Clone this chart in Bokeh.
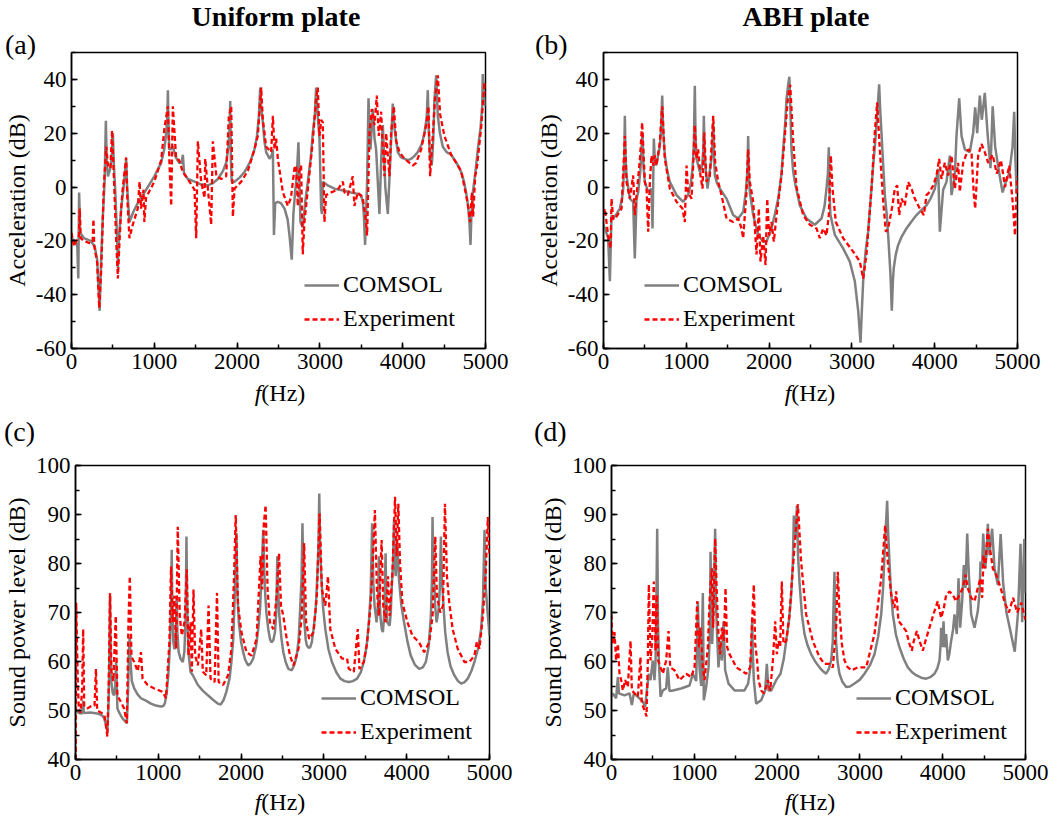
from bokeh.plotting import figure
from bokeh.models import (Legend, LegendItem, SingleIntervalTicker, Range1d, Div,
                          PrintfTickFormatter)
from bokeh.layouts import column, row
from bokeh.embed import file_html
from bokeh.resources import INLINE

FONT = "Liberation Serif"

# ---------------- data: (frequency Hz, level dB) ----------------
a_comsol = [(0, -19), (40, -20), (70, -22), (82, -34), (92, -2), (105, -17), (150, -19), (230, -20),
            (280, -22), (310, -27), (340, -46), (360, -25), (380, -10), (400, 2), (415, 24.6), (425, 10),
            (440, 4), (470, 7), (490, 13), (500, 20), (512, 8), (528, -1), (552, -20), (560, -30),
            (570, -20), (600, -8), (640, 3), (660, 10.5), (672, 0), (700, -13), (750, -9), (800, -6),
            (882, -2), (1000, 4), (1083, 9), (1120, 14), (1144, 20), (1158, 27), (1164, 36), (1172, 22),
            (1180, 14), (1196, 14), (1224, 15), (1260, 11), (1300, 9), (1330, 9), (1345, 12), (1360, 5),
            (1405, 3), (1486, 2), (1560, 1), (1647, 0.6), (1710, 1.5), (1768, 3), (1830, 6), (1868, 9),
            (1895, 15), (1910, 22), (1917, 32), (1925, 10), (1935, 2), (1969, 2), (2030, 3.5),
            (2090, 5.6), (2160, 9.5), (2210, 14), (2240, 19), (2262, 26), (2279, 37), (2290, 30),
            (2311, 24), (2330, 17), (2351, 13), (2392, 10.5), (2420, 12), (2432, 14), (2445, -17.8),
            (2460, -6), (2492, -5.5), (2530, -6), (2573, -8), (2610, -12), (2633, -18), (2660, -27),
            (2680, -10), (2700, -2), (2720, 4), (2741, 16.6), (2765, -13), (2793, -15), (2825, -5),
            (2854, 2), (2890, 11), (2914, 20), (2940, 27), (2954, 37), (2975, 26), (2995, 18),
            (3015, -8), (3025, -10), (3035, 2), (3100, 0.5), (3176, -0.6), (3280, -1.3), (3377, -2),
            (3450, -2.5), (3498, -3), (3520, -6), (3530, -10), (3546, -21.5), (3570, 2), (3587, 33),
            (3611, 14), (3639, 29), (3660, 18), (3679, 14), (3719, -10), (3740, 10), (3760, 23),
            (3790, 0), (3820, -10), (3850, 10), (3880, 31), (3900, 22), (3941, 13), (3980, 11),
            (4021, 10.5), (4060, 10), (4102, 10.5), (4140, 11.5), (4182, 13), (4230, 16), (4263, 20),
            (4290, 26), (4303, 36), (4316, 20), (4331, 10.5), (4351, 8), (4370, 18), (4384, 33),
            (4404, 41.5), (4424, 26.5), (4450, 20), (4484, 15), (4530, 13), (4585, 12), (4650, 9),
            (4706, 5.6), (4740, 2), (4766, -2), (4790, -7), (4806, -13), (4819, -21.5), (4830, -10),
            (4847, -2), (4880, 6), (4907, 14), (4940, 22), (4960, 30), (4967, 42), (4980, 35),
            (5000, 30)]

a_experiment = [(0, -17), (30, -22), (60, -20), (90, -18), (100, -8), (110, -19), (150, -20), (230, -21),
                (255, -20), (265, -12), (275, -22), (310, -28), (335, -45), (360, -30), (390, 0), (420, 15),
                (440, 8), (470, 7), (490, 21), (510, 5), (540, -20), (560, -34), (580, -20), (600, -8),
                (620, 0), (660, 11), (675, -5), (700, -19), (740, -14), (800, -8), (822, 2), (840, -8),
                (870, -1), (880, -13), (900, -4), (1000, 2), (1083, 10), (1123, 22), (1164, 30), (1184, 8),
                (1204, -7), (1224, 30), (1264, 10.5), (1300, 10), (1345, 5.6), (1405, 3), (1486, -1),
                (1506, -19), (1526, 17), (1566, 2), (1607, -4), (1615, 10.5), (1647, -0.6), (1687, -14),
                (1707, 17), (1750, 4), (1808, 3), (1868, 4), (1900, 26), (1929, 30), (1949, -11),
                (1969, -0.6), (2050, 2), (2130, 6), (2210, 14), (2250, 19), (2291, 37), (2311, 25),
                (2351, 15), (2411, 13), (2432, 26.5), (2452, 14), (2472, 18), (2492, 10.5), (2553, -2),
                (2613, -7), (2650, -4), (2693, 7), (2713, 8), (2733, -7), (2753, 6), (2773, 8), (2793, -25),
                (2813, -13), (2854, -1), (2914, 17), (2954, 33), (2975, 37), (2995, 19), (3015, 25),
                (3035, 24), (3055, -13), (3075, -3), (3136, -2), (3216, -1), (3277, 2), (3297, -2),
                (3337, -3), (3397, 4), (3417, -7), (3457, -2), (3518, -4), (3558, -13), (3570, -18),
                (3599, 20), (3627, 29), (3659, 23), (3687, 34), (3711, 19), (3740, 28), (3760, 13),
                (3780, 4), (3800, 20), (3820, 12), (3840, 4), (3860, 20), (3893, 30), (3921, 17),
                (3961, 13), (4021, 10.5), (4082, 9), (4122, 8), (4162, 9), (4223, 14), (4283, 23),
                (4311, 30), (4331, 4), (4363, 19), (4391, 33), (4424, 41.5), (4452, 27), (4504, 19),
                (4585, 12), (4706, 6), (4766, -3), (4794, -8), (4814, -13), (4835, -2), (4851, -11),
                (4875, 4), (4899, 8), (4947, 22), (4988, 39), (5000, 35)]

b_comsol = [(0, -14), (16, -15.4), (56, -19), (77, -35), (97, -10.5), (117, -11.7), (157, -10), (197, -8),
            (225, -4), (238, -0.6), (250, 10), (258, 26.5), (266, 12), (278, 4.3), (318, -4.3),
            (358, -5.5), (378, -26.5), (399, -4.3), (419, -2), (445, 6), (459, 14), (471, 20.3),
            (482, 8), (499, 1.9), (540, -1.8), (580, -0.6), (592, -15.4), (608, 18), (620, 10),
            (635, 8), (660, 11.7), (680, 15), (693, 20.3), (709, 34), (722, 20), (741, 11.7), (770, 6),
            (801, 1.9), (882, -3), (962, -5.5), (1023, -3), (1055, 1.5), (1075, 6.8), (1090, 15),
            (1103, 37.6), (1112, 18), (1123, 10.5), (1164, 5.6), (1192, 8), (1205, 14), (1212, 26.5),
            (1222, 12), (1236, 6), (1256, -0.6), (1284, 6), (1310, 12), (1325, 24), (1335, 12),
            (1345, 4.3), (1370, 1.5), (1405, -0.6), (1486, -4.3), (1566, -10.4), (1627, -11.7),
            (1687, -9.2), (1719, -1.8), (1738, 6), (1747, 19), (1756, 4), (1767, -1.8), (1808, -10.4),
            (1868, -17.8), (1929, -20.3), (1969, -20.3), (2029, -15.4), (2070, -10), (2110, -4.3),
            (2150, 5), (2170, 14), (2195, 24), (2210, 32.6), (2230, 38), (2245, 41), (2258, 28),
            (2270, 14), (2290, 6), (2311, 1.9), (2371, -6.8), (2452, -11.7), (2552, -14), (2633, -11.7),
            (2670, -7), (2693, -0.6), (2710, 5), (2721, 14.8), (2730, -2), (2741, -10.4), (2794, -17.8),
            (2894, -22.8), (2975, -27.7), (3035, -35), (3076, -46), (3104, -57.8), (3120, -46),
            (3136, -35), (3165, -24), (3196, -16.6), (3230, -3), (3257, 8), (3285, 18), (3305, 26.5),
            (3329, 38.2), (3343, 28), (3357, 20.3), (3380, 7), (3398, -3), (3420, -10), (3438, -17.8),
            (3466, -32.6), (3482, -46), (3495, -35), (3506, -30), (3530, -25), (3559, -21.5),
            (3600, -18.5), (3659, -15.4), (3720, -12.8), (3780, -10.4), (3840, -8.6), (3901, -6.8),
            (3955, -4), (4002, -0.6), (4042, 6.8), (4062, -16.6), (4102, -1), (4142, 1.9), (4183, 11.7),
            (4203, -3), (4243, 4.3), (4263, 19), (4296, 33), (4324, 19), (4364, 14), (4424, 13),
            (4465, 20.3), (4489, 29.6), (4513, 20), (4545, 34), (4569, 25), (4605, 35), (4638, 20),
            (4674, 7), (4700, 30), (4730, 15), (4780, 5), (4820, -2), (4860, 2), (4900, 5), (4940, 15),
            (4960, 28), (4975, 10), (4990, -2), (5000, 1)]

b_experiment = [(0, -10), (16, -8), (56, -18), (85, -22.8), (97, -4.3), (117, -12), (157, -11), (218, -8),
                (258, 19), (278, 1.9), (318, -4.3), (358, 4.3), (378, -10.4), (399, -3), (439, 10),
                (467, 24), (499, 1.9), (520, -0.6), (540, -16.6), (560, 1.9), (580, 11.7), (600, 8),
                (620, 11.7), (640, 8), (680, 16.6), (709, 30), (741, 10.5), (801, -0.6), (882, -5.5),
                (954, -8), (982, -13), (1003, 8), (1023, -2), (1063, -4.3), (1083, 8), (1103, 23),
                (1123, 10.5), (1143, 14), (1172, 4), (1196, -0.6), (1216, 20.3), (1244, 2), (1284, 4),
                (1325, 26.5), (1349, 9), (1385, 2), (1425, -3), (1486, -11.7), (1566, -13), (1627, -11.7),
                (1667, -15.4), (1687, -19), (1727, -2), (1747, 14), (1767, 2), (1808, -5.5), (1848, -25),
                (1876, -8), (1896, -27.7), (1929, -18), (1957, -29), (1977, -4.3), (2001, -18),
                (2029, -13), (2057, -20.3), (2090, -10.4), (2150, 4.3), (2190, 19), (2230, 34),
                (2255, 38), (2291, 17), (2331, 0), (2411, -10.4), (2492, -14), (2572, -15.4), (2613, -19),
                (2653, -15.4), (2693, -18), (2721, -10.4), (2745, 11.7), (2766, -0.6), (2806, -13),
                (2894, -19), (3015, -24), (3096, -27.7), (3136, -34), (3176, -25), (3237, -0.6),
                (3277, 20.3), (3305, 31.4), (3337, 14), (3378, -5.5), (3410, -16.6), (3438, -15.4),
                (3490, -6.8), (3518, -0.6), (3547, 0.6), (3571, -10.4), (3599, -4.3), (3639, -6.8),
                (3679, 1.9), (3720, -0.6), (3760, -4.3), (3820, -8), (3869, -10.4), (3901, -3),
                (3941, -1.8), (3981, 0.6), (4022, 4.3), (4054, 10.5), (4082, 3), (4122, 9), (4163, 4.3),
                (4203, 11.7), (4243, -0.6), (4283, 9), (4303, -1.8), (4344, 9), (4404, 14), (4444, 13),
                (4473, -3), (4489, -8), (4525, 11.7), (4565, 16), (4605, 13), (4646, 9), (4700, 12),
                (4750, 5), (4800, 10), (4850, 0), (4900, 8), (4940, -5), (4970, -18), (4990, 0), (5000, 4)]

c_comsol = [(0, 50), (40, 49.5), (81, 49.4), (93, 52), (100, 49.5), (180, 49.6), (263, 49.4), (320, 49),
            (344, 48.5), (370, 47), (385, 45.7), (400, 52), (410, 62), (417, 73.4), (425, 62), (433, 55.8),
            (450, 53.5), (466, 53.1), (480, 55), (490, 59.9), (498, 55), (506, 50.4), (530, 49.5),
            (567, 48.4), (600, 47.8), (620, 47.4), (635, 54), (645, 62), (655, 65), (665, 60), (680, 56),
            (709, 54.5), (750, 53.3), (790, 52.5), (850, 52), (911, 51.4), (970, 51), (1032, 50.8),
            (1060, 50.9), (1080, 51.5), (1100, 53.5), (1120, 57), (1140, 63), (1155, 72), (1162, 82.8),
            (1170, 70), (1182, 64), (1195, 62.5), (1210, 64), (1218, 70), (1223, 73.4), (1230, 66),
            (1245, 62), (1270, 60.5), (1296, 59.9), (1315, 62), (1330, 69), (1340, 85.5), (1350, 70),
            (1364, 61.9), (1389, 57.9), (1417, 57.2), (1478, 55.2), (1540, 54), (1599, 53.1),
            (1660, 52.2), (1721, 51.4), (1753, 51.2), (1790, 52.2), (1822, 53.8), (1860, 56.5),
            (1883, 59.9), (1905, 64.5), (1923, 73.4), (1944, 86.2), (1955, 74), (1972, 68), (2000, 64),
            (2025, 61.9), (2050, 60.3), (2085, 59.2), (2115, 59.6), (2146, 60.6), (2180, 63),
            (2207, 66.6), (2230, 71), (2247, 78.1), (2267, 86.9), (2278, 80), (2288, 74.7), (2305, 70),
            (2328, 66.6), (2350, 64.5), (2369, 63.9), (2390, 64.4), (2409, 66), (2425, 70), (2437, 81.5),
            (2448, 74), (2462, 69.3), (2485, 65), (2510, 61.9), (2540, 59.8), (2571, 58.5), (2612, 58.2),
            (2645, 59.4), (2672, 61.2), (2695, 64.5), (2713, 70.7), (2730, 77), (2741, 88.2), (2752, 76),
            (2765, 68), (2780, 64.5), (2794, 63.3), (2815, 62.8), (2834, 62.9), (2855, 64), (2875, 66.6),
            (2900, 70.5), (2915, 75.4), (2935, 84), (2944, 94.3), (2955, 83), (2968, 77.5), (2990, 71),
            (3017, 66.6), (3055, 62.5), (3097, 59.9), (3150, 57.8), (3199, 56.5), (3250, 56),
            (3300, 55.8), (3350, 56), (3401, 56.5), (3445, 57.8), (3482, 59.9), (3515, 63), (3543, 68),
            (3565, 74), (3583, 88.2), (3597, 76), (3612, 71.4), (3636, 68), (3655, 72), (3664, 81.5),
            (3675, 72), (3685, 68.7), (3700, 66.5), (3713, 66), (3730, 70), (3745, 82.1), (3755, 72),
            (3766, 68), (3794, 67.3), (3808, 70), (3818, 74.7), (3835, 80), (3847, 88.9), (3857, 80),
            (3867, 77.4), (3887, 84.2), (3907, 76.7), (3935, 71.5), (3968, 68), (4010, 64), (4049, 61.2),
            (4100, 59.3), (4150, 58.5), (4195, 58.8), (4231, 59.9), (4265, 63), (4292, 69.3), (4305, 77),
            (4312, 89.5), (4320, 80), (4332, 77.4), (4345, 71), (4361, 68), (4385, 70.7), (4400, 75),
            (4413, 85.5), (4425, 77), (4442, 72), (4465, 66), (4494, 61.9), (4530, 59), (4575, 57.2),
            (4620, 56), (4656, 55.5), (4700, 55.8), (4737, 56.5), (4780, 58), (4818, 59.9), (4860, 62.5),
            (4899, 66.6), (4920, 72), (4940, 86.9), (4952, 76), (4968, 72), (5000, 65.3)]

c_experiment = [(0, 40), (4, 40), (8, 72), (28, 55.8), (40, 50.4), (60, 49.5), (81, 54.5), (93, 66.6),
                (105, 51), (142, 50.4), (200, 51), (230, 51), (247, 58.5), (262, 50), (315, 49.5),
                (350, 49), (385, 44.7), (400, 54), (417, 74), (433, 58), (457, 56), (486, 69.3), (506, 53),
                (547, 51.8), (587, 50.4), (620, 47.4), (640, 68), (656, 77.4), (676, 61), (709, 59.9),
                (750, 58), (790, 61.9), (810, 56.5), (871, 55.2), (952, 54.5), (1053, 53.8), (1093, 52.5),
                (1134, 64), (1154, 79.4), (1174, 68), (1194, 73.4), (1215, 62.6), (1235, 87.5),
                (1259, 69.3), (1284, 65.3), (1316, 68), (1344, 78.8), (1364, 61.2), (1389, 68),
                (1405, 57.9), (1425, 74.7), (1445, 61.2), (1478, 59.2), (1518, 66.6), (1538, 57.9),
                (1579, 57.2), (1607, 71.4), (1631, 56.5), (1680, 55.8), (1709, 74), (1729, 55.8),
                (1782, 55.2), (1843, 57.2), (1883, 62.6), (1915, 77.4), (1935, 89.9), (1963, 71.4),
                (2004, 66), (2065, 61.9), (2126, 61.2), (2187, 64.6), (2235, 81.5), (2255, 74.7),
                (2275, 88.2), (2296, 91.9), (2320, 74.7), (2348, 68), (2389, 66.6), (2429, 73.4),
                (2458, 82.1), (2482, 71.4), (2510, 69.3), (2551, 64.6), (2591, 61.2), (2632, 59.2),
                (2693, 62.6), (2733, 69.3), (2761, 84.2), (2785, 68), (2822, 64.6), (2875, 66),
                (2915, 73.4), (2948, 90.2), (2976, 74.7), (3017, 71.4), (3049, 77.4), (3077, 66.6),
                (3138, 62.6), (3219, 60.6), (3280, 60.6), (3300, 58.5), (3361, 57.9), (3409, 66.6),
                (3429, 58.5), (3482, 59.9), (3523, 64), (3563, 71.4), (3583, 77.4), (3616, 90.9),
                (3640, 74.7), (3664, 69.3), (3697, 84.8), (3717, 71.4), (3745, 68), (3774, 77.4),
                (3794, 69.3), (3826, 77.4), (3859, 93.6), (3879, 81.5), (3899, 92.2), (3919, 80.2),
                (3948, 72), (4009, 68), (4069, 65.3), (4150, 63.9), (4211, 61.9), (4272, 63.9),
                (4312, 69.3), (4345, 85.5), (4365, 73.4), (4406, 70), (4438, 71.4), (4462, 92.2),
                (4486, 77.4), (4514, 72), (4555, 66.6), (4616, 62.6), (4697, 59.9), (4757, 59.9),
                (4818, 61.2), (4847, 64), (4879, 62.6), (4920, 69.3), (4952, 77.4), (4980, 89.5),
                (5000, 81.5)]

d_comsol = [(0, 52.8), (16, 53.5), (56, 52.5), (77, 56.8), (90, 53.5), (157, 53.1), (218, 53.5), (246, 51.1),
            (270, 53.5), (318, 52.8), (378, 51.8), (407, 50.8), (431, 54.8), (451, 57.5), (471, 56.2),
            (499, 60.2), (519, 56.2), (532, 60), (540, 69.6), (552, 87.1), (562, 68), (572, 60.2),
            (592, 52.8), (620, 54.1), (660, 54.5), (680, 58.8), (700, 54), (741, 54.1), (841, 54.5),
            (942, 55.1), (982, 57.5), (1023, 56), (1043, 72.3), (1063, 58.8), (1083, 55), (1103, 74),
            (1115, 52.1), (1143, 54.8), (1172, 58.8), (1188, 66), (1196, 82.4), (1206, 68), (1216, 63.6),
            (1236, 73.6), (1252, 87.1), (1262, 72), (1272, 66.9), (1292, 58.8), (1312, 64.2), (1333, 60.2),
            (1353, 68.2), (1373, 58.2), (1413, 55.5), (1486, 54.1), (1606, 54.1), (1650, 55.5),
            (1675, 58.5), (1690, 62), (1699, 68.9), (1708, 61), (1719, 56.2), (1747, 51.4), (1808, 52.1),
            (1856, 54.1), (1876, 59.5), (1896, 54.1), (1929, 54.1), (1989, 56.2), (2041, 57.5),
            (2080, 60.5), (2110, 64.2), (2145, 68.5), (2170, 73.6), (2190, 80), (2202, 89.8), (2212, 85),
            (2225, 86), (2239, 91.8), (2252, 82), (2271, 76), (2300, 69.5), (2331, 65.6), (2370, 63.2),
            (2411, 61.5), (2460, 60), (2512, 58.8), (2555, 58), (2592, 57.5), (2625, 58.5), (2653, 60.2),
            (2672, 64), (2681, 70.9), (2693, 78.3), (2703, 68), (2713, 64), (2730, 60), (2753, 57.5),
            (2790, 55.8), (2834, 54.8), (2880, 54.9), (2935, 55.5), (3000, 56.3), (3055, 57.5),
            (3120, 59.2), (3176, 61.5), (3220, 65), (3257, 69.6), (3280, 75), (3297, 81.7), (3315, 88),
            (3329, 92.8), (3342, 86), (3357, 80.4), (3375, 74.5), (3398, 69.6), (3435, 65.5),
            (3478, 62.9), (3530, 60.5), (3579, 58.8), (3630, 57.8), (3679, 57.2), (3740, 56.7),
            (3800, 56.5), (3850, 56.8), (3901, 57.5), (3935, 58.6), (3961, 60.2), (3975, 63.5),
            (3981, 66.9), (3993, 62.9), (4010, 68.2), (4022, 62.9), (4042, 65.6), (4062, 60.2),
            (4080, 61.5), (4102, 64.2), (4125, 66.5), (4142, 69.6), (4170, 65.6), (4191, 77),
            (4211, 66.9), (4235, 72.3), (4255, 79.7), (4275, 75), (4296, 86.1), (4316, 77.7),
            (4344, 69.6), (4384, 66.9), (4424, 70.3), (4445, 74), (4457, 80.4), (4475, 79), (4489, 86.1),
            (4513, 79), (4530, 82), (4545, 88.1), (4565, 81.7), (4597, 87.1), (4626, 79), (4666, 75.6),
            (4700, 86), (4730, 76), (4770, 70), (4820, 66), (4870, 62), (4910, 70), (4940, 84),
            (4960, 68), (4985, 85), (5000, 74)]

d_experiment = [(0, 69.6), (4, 66.9), (16, 63.6), (36, 66), (56, 60.2), (77, 63.6), (97, 57.5), (117, 56.2),
                (137, 54.1), (165, 56.2), (197, 54.8), (230, 64.2), (246, 54.1), (278, 53.5), (318, 52.8),
                (350, 60.9), (366, 51.4), (399, 50.1), (423, 48.8), (439, 60.2), (451, 75.7), (471, 60.2),
                (491, 64.2), (511, 76.3), (531, 62.2), (548, 73.6), (564, 60.2), (592, 58.8), (620, 57.5),
                (660, 60.2), (689, 66.2), (709, 58.8), (761, 58.2), (821, 56.2), (902, 57.5), (962, 56.8),
                (1003, 58.8), (1035, 72.3), (1055, 62.9), (1075, 66.9), (1103, 58.8), (1123, 56.2),
                (1164, 62.9), (1184, 72.3), (1212, 79), (1228, 66.9), (1252, 85.1), (1272, 73.6),
                (1292, 65.6), (1312, 61.5), (1333, 66.9), (1357, 64.2), (1377, 75), (1397, 62.9),
                (1425, 61.5), (1466, 60.2), (1506, 58.8), (1566, 58.2), (1627, 57.5), (1675, 58.8),
                (1695, 66.9), (1719, 75.7), (1735, 63.6), (1759, 60.2), (1775, 56.2), (1808, 54.1),
                (1840, 53.5), (1868, 54.8), (1888, 56.2), (1917, 54.1), (1949, 60.2), (1977, 68.2),
                (1997, 61.5), (2017, 64.2), (2037, 62.9), (2057, 76.3), (2077, 63.6), (2110, 64.2),
                (2150, 69.6), (2190, 79), (2230, 87.8), (2251, 92.1), (2290, 80.4), (2351, 69.6),
                (2431, 64.2), (2512, 60.9), (2572, 59.5), (2633, 59.5), (2673, 58.8), (2713, 66.9),
                (2733, 78.3), (2753, 70.3), (2782, 63.6), (2814, 60.2), (2854, 58.8), (2902, 58.2),
                (2975, 58.8), (3076, 58.8), (3176, 65.6), (3257, 77), (3305, 87.8), (3337, 80.4),
                (3378, 73.6), (3418, 70.9), (3438, 74.3), (3466, 68.3), (3498, 67.6), (3559, 66.2),
                (3599, 63.6), (3627, 62.2), (3651, 64.2), (3688, 66.2), (3720, 64.2), (3760, 62.2),
                (3792, 64.2), (3840, 66.9), (3901, 70.3), (3941, 72.3), (3981, 68.9), (4014, 70.9),
                (4042, 73.6), (4082, 74.3), (4122, 73.6), (4163, 72.3), (4203, 73.6), (4243, 75),
                (4275, 77.7), (4303, 75), (4344, 73), (4384, 72.3), (4424, 75), (4457, 77), (4477, 73),
                (4493, 81.7), (4513, 79), (4545, 87.1), (4577, 82.4), (4605, 79), (4646, 77.7),
                (4700, 75), (4750, 72), (4800, 70), (4850, 73), (4900, 70), (4950, 72), (5000, 68.5)]

x_tick_interval = 1000
titles = ["Uniform plate", "ABH plate"]
panel_labels = ["(a)", "(b)", "(c)", "(d)"]
series_names = ["COMSOL", "Experiment"]
ylabels = ["Acceleration (dB)", "Sound power level (dB)"]
xlabel_var, xlabel_unit = "f", "(Hz)"


def make_panel(comsol, expt, ylo, yhi, ystep, ylabel, fh, mb, legend_xy):
    p = figure(frame_width=414, frame_height=fh, output_backend="svg", toolbar_location=None,
               x_range=Range1d(0, 5000), y_range=Range1d(ylo, yhi),
               min_border_left=mb[0], min_border_right=mb[1], min_border_top=mb[2],
               min_border_bottom=mb[3])
    p.xgrid.visible = False
    p.ygrid.visible = False
    p.background_fill_color = "white"
    p.border_fill_alpha = 0
    p.outline_line_color = "black"
    p.outline_line_width = 1.5
    p.outline_line_alpha = 1.0
    p.xaxis.ticker = SingleIntervalTicker(interval=x_tick_interval, num_minor_ticks=2)
    p.yaxis.ticker = SingleIntervalTicker(interval=ystep, num_minor_ticks=2)
    p.yaxis.formatter = PrintfTickFormatter(format="%d")
    for ax in (p.xaxis[0], p.yaxis[0]):
        ax.major_tick_in = 6
        ax.major_tick_out = 0
        ax.minor_tick_in = 4
        ax.minor_tick_out = 0
        ax.axis_line_color = "black"
        ax.axis_line_width = 1.5
        ax.major_tick_line_color = "black"
        ax.major_tick_line_width = 1.5
        ax.minor_tick_line_color = "black"
        ax.minor_tick_line_width = 1.5
        ax.major_label_text_font = FONT
        ax.major_label_text_font_size = "23px"
        ax.major_label_text_color = "black"
        ax.major_label_standoff = 5
        ax.axis_label_text_font = FONT
        ax.axis_label_text_font_size = "24px"
        ax.axis_label_text_font_style = "normal"
        ax.axis_label_text_color = "black"
    p.yaxis.axis_label = ylabel
    p.yaxis.axis_label_standoff = 3

    cf, cd = zip(*comsol)
    ef, ed = zip(*expt)
    r1 = p.line(list(cf), list(cd), line_color="#808080", line_width=2.5)
    r2 = p.line(list(ef), list(ed), line_color="#ff0000", line_width=2.3, line_dash="5 3")

    legend = Legend(items=[LegendItem(label=series_names[0], renderers=[r1]),
                           LegendItem(label=series_names[1], renderers=[r2])],
                    location=legend_xy)
    legend.border_line_color = None
    legend.background_fill_alpha = 0
    legend.padding = 0
    legend.margin = 0
    legend.spacing = 7
    legend.glyph_width = 35
    legend.glyph_height = 24
    legend.label_height = 24
    legend.label_standoff = 4
    legend.label_text_font = FONT
    legend.label_text_font_size = "24px"
    legend.label_text_color = "black"
    p.add_layout(legend)
    return p


def span(html, left, top, width=None, bold=False, size=28):
    w = f"width:{width}px;text-align:center;" if width else ""
    weight = "bold" if bold else "normal"
    return (f'<span style="position:absolute;left:{left}px;top:{top}px;{w}'
            f'font-family:\'{FONT}\';font-size:{size}px;font-weight:{weight};line-height:{size}px;'
            f'white-space:nowrap;color:black;">{html}</span>')


xlabel_html = f"<i>{xlabel_var}</i>{xlabel_unit}"

top_html = ('<div style="position:relative;width:1040px;height:37px;">'
            + span(titles[0], 276 - 150, 3, width=300, bold=True)
            + span(titles[1], 806 - 150, 3, width=300, bold=True)
            + span(panel_labels[0], 5, 31)
            + span(panel_labels[1], 535, 31)
            + '</div>')
mid_html = ('<div style="position:relative;width:1040px;height:70px;">'
            + span(xlabel_html, 280 - 150, -1, width=300, size=24)
            + span(xlabel_html, 810 - 150, -1, width=300, size=24)
            + span(panel_labels[2], 4, 36)
            + span(panel_labels[3], 534, 36)
            + '</div>')
bot_html = ('<div style="position:relative;width:1040px;height:24px;">'
            + span(xlabel_html, 280 - 150, -3, width=300, size=24)
            + span(xlabel_html, 810 - 150, -3, width=300, size=24)
            + '</div>')

top_div = Div(text=top_html, width=1040, height=37, margin=0)
mid_div = Div(text=mid_html, width=1040, height=70, margin=0)
bot_div = Div(text=bot_html, width=1040, height=24, margin=0)

pa = make_panel(a_comsol, a_experiment, -60, 50, 20, ylabels[0], 296, (69, 47, 15, 34), (233, 16))
pb = make_panel(b_comsol, b_experiment, -60, 50, 20, ylabels[0], 296, (69, 24, 15, 34), (41, 16))
pc = make_panel(c_comsol, c_experiment, 40, 100, 10, ylabels[1], 294, (69, 47, 13, 34), (246, 14))
pd = make_panel(d_comsol, d_experiment, 40, 100, 10, ylabels[1], 294, (69, 24, 13, 34), (245, 14))

layout = column(top_div, row(pa, pb), mid_div, row(pc, pd), bot_div)
open("out.html", "w").write(file_html(layout, INLINE))
